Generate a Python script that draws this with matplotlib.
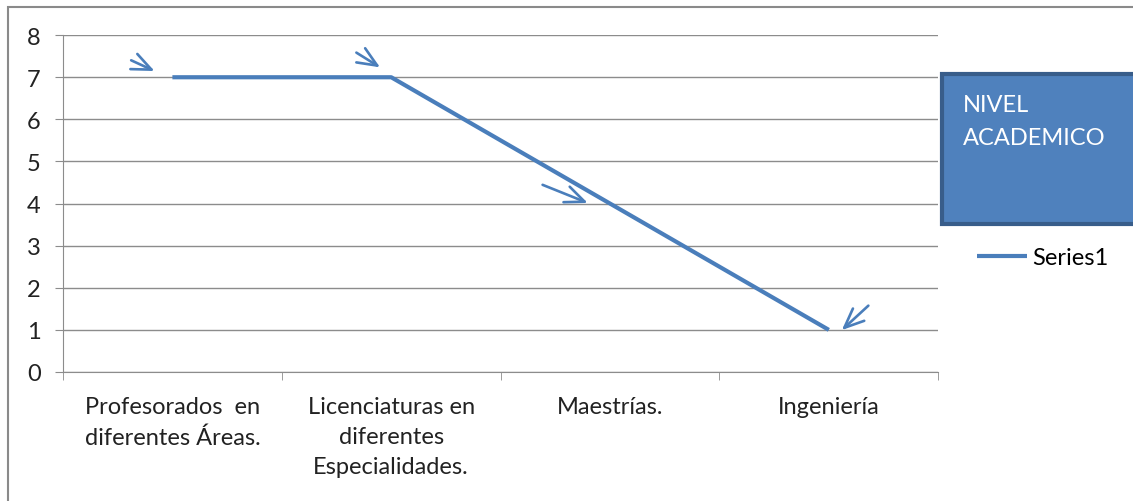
import matplotlib.pyplot as plt
from matplotlib.patches import Rectangle

plt.rcParams['font.family'] = ['Lato', 'DejaVu Sans']

# datos
categorias = ['Profesorados  en\ndiferentes Áreas.',
              'Licenciaturas en\ndiferentes\nEspecialidades.',
              'Maestrías.',
              'Ingeniería']
valores = [7, 7, 4, 1]
serie = 'Series1'
titulo_caja = 'NIVEL\nACADEMICO'

# flechas: desplazamiento de la punta y de la cola respecto a cada punto (unidades de datos)
punta = [(-0.07, 0.12), (-0.04, 0.2), (-0.09, -0.01), (0.05, -0.05)]
cola = [(-0.2, 0.43), (-0.17, 0.62), (-0.32, 0.47), (0.19, 0.62)]

azul = '#4A7EBB'
gris = '#8C8C8C'
fs = 17

fig = plt.figure(figsize=(11.33, 5.02), dpi=100)
fig.patches.append(Rectangle((0.007, -0.1), 1.2, 1.084, transform=fig.transFigure,
                             fill=False, edgecolor='#8A8A8A', linewidth=1.5))

ax = fig.add_axes([0.0556, 0.257, 0.7725, 0.671])
x = list(range(len(categorias)))
ax.plot(x, valores, color=azul, linewidth=3, solid_capstyle='butt', label=serie)

for i, v in enumerate(valores):
    ax.annotate('', xy=(i + punta[i][0], v + punta[i][1]),
                xytext=(i + cola[i][0], v + cola[i][1]),
                arrowprops=dict(arrowstyle='->,head_length=1.4,head_width=0.6',
                                color=azul, linewidth=1.9))

ax.set_xlim(-0.5, len(categorias) - 0.5)
ax.set_ylim(0, 8)
ax.set_yticks(range(0, 9))
ax.grid(axis='y', color=gris, linewidth=1)
ax.set_axisbelow(True)

ax.set_xticks(x)
ax.set_xticklabels(categorias, fontsize=fs, color='#222222', linespacing=1.55)
ax.set_xticks([i - 0.5 for i in range(len(categorias) + 1)], minor=True)
ax.tick_params(axis='x', which='major', length=0, pad=17)
ax.tick_params(axis='x', which='minor', length=6, color=gris, direction='out')
ax.tick_params(axis='y', length=6, color=gris, labelsize=fs, labelcolor='#222222', pad=10)

for s in ['top', 'right']:
    ax.spines[s].set_visible(False)
ax.spines['left'].set_color(gris)
ax.spines['bottom'].set_color(gris)

# caja azul con texto
fig.patches.append(Rectangle((942 / 1133, 1 - 225 / 502), 0.2, 150 / 502,
                             transform=fig.transFigure, facecolor='#4F81BD',
                             edgecolor='#385D8A', linewidth=3))
fig.text(963 / 1133, 1 - 95 / 502, titulo_caja, color='white', fontsize=fs,
         va='top', ha='left', linespacing=1.7)

leg = ax.legend(loc='center left', bbox_to_anchor=(1.02, 0.34), frameon=False,
                fontsize=fs, handlelength=2.1, handletextpad=0.25)

fig.savefig('out.png', dpi=100)
